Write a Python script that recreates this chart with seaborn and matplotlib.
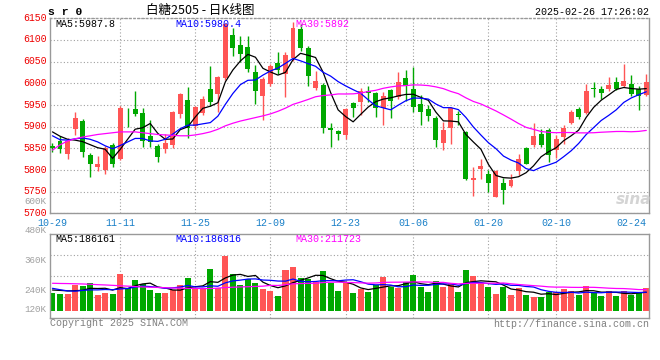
import numpy as np
import pandas as pd
import seaborn as sns
import matplotlib.pyplot as plt
from matplotlib.transforms import ScaledTranslation

# ===============================
# 1. DATA
# ===============================
opens = [5855, 5868, 5837, 5895, 5912, 5835, 5807, 5800, 5858, 5826,
         5935, 5941, 5932, 5879, 5856, 5848, 5858, 5929, 5962, 5902,
         5932, 5988, 5975, 6012, 6112, 6088, 6083, 6025, 5971, 5998,
         6046, 6021, 6058, 6125, 6082, 5990, 5996, 5896, 5891, 5881,
         5955, 5958, 5982, 5977, 5942, 5985, 5969, 6013, 5987, 5952,
         5940, 5919, 5862, 5896, 5929, 5887, 5778, 5802, 5791, 5738,
         5769, 5763, 5798, 5850, 5858, 5883, 5892, 5846, 5877, 5909,
         5940, 5931, 5990, 5986, 5987, 6004, 5995, 5998, 5988, 5973]
highs = [5862, 5878, 5875, 5934, 5918, 5839, 5833, 5856, 5862, 5948,
         5942, 5983, 5942, 5915, 5861, 5884, 5937, 5978, 5992, 5948,
         5970, 6040, 6018, 6140, 6128, 6110, 6109, 6042, 6015, 6044,
         6072, 6072, 6142, 6138, 6087, 6028, 6000, 5908, 5893, 5944,
         5956, 5990, 5995, 5981, 5979, 5988, 6027, 6031, 6038, 5973,
         5950, 5925, 5910, 5946, 5936, 5889, 5808, 5826, 5800, 5800,
         5781, 5792, 5838, 5854, 5909, 5894, 5896, 5881, 5904, 5938,
         5945, 5998, 6004, 5994, 6014, 6015, 6045, 6019, 5994, 6021]
lows = [5842, 5840, 5826, 5881, 5831, 5785, 5798, 5790, 5808, 5823,
        5900, 5924, 5854, 5853, 5818, 5840, 5851, 5920, 5875, 5895,
        5927, 5947, 5935, 6008, 6062, 6050, 6025, 5952, 5916, 5994,
        6021, 5969, 6052, 6075, 5995, 5985, 5885, 5854, 5869, 5872,
        5923, 5927, 5956, 5923, 5905, 5921, 5964, 5959, 5935, 5905,
        5913, 5852, 5846, 5859, 5905, 5777, 5741, 5779, 5749, 5737,
        5722, 5760, 5789, 5814, 5852, 5854, 5819, 5827, 5860, 5907,
        5917, 5929, 5969, 5965, 5983, 5985, 5992, 5970, 5938, 5970]
closes = [5850, 5848, 5868, 5920, 5842, 5815, 5813, 5850, 5815, 5944,
          5933, 5929, 5867, 5864, 5831, 5863, 5933, 5975, 5896, 5945,
          5963, 5957, 6015, 6137, 6082, 6067, 6033, 5982, 6009, 6040,
          6031, 6065, 6128, 6082, 6018, 6005, 5896, 5893, 5882, 5941,
          5944, 5982, 5977, 5944, 5971, 5959, 6004, 5994, 5946, 5935,
          5925, 5869, 5892, 5944, 5926, 5779, 5782, 5809, 5769, 5798,
          5754, 5777, 5825, 5815, 5878, 5858, 5835, 5871, 5896, 5935,
          5923, 5982, 5987, 5978, 5996, 5986, 6005, 5975, 5971, 6002]
# volume in thousands of lots
volumes = [182, 169, 169, 260, 249, 283, 159, 182, 169, 371,
           232, 310, 270, 209, 176, 182, 209, 260, 333, 226,
           226, 421, 226, 556, 371, 260, 317, 277, 216, 199,
           152, 411, 438, 333, 320, 287, 401, 277, 199, 277,
           182, 216, 192, 260, 343, 242, 226, 293, 361, 242,
           192, 303, 242, 270, 192, 411, 354, 283, 242, 169,
           242, 159, 232, 159, 141, 141, 186, 186, 219, 199,
           159, 249, 182, 148, 199, 148, 199, 159, 192, 232]

# first days of each average need history outside the window
ma5_head = [5888, 5878, 5871, 5869]
ma10_head = [5879, 5870, 5869, 5872, 5874, 5871, 5865, 5856, 5849]
ma30_head = [5846, 5858, 5867, 5872, 5876, 5879, 5882, 5884, 5886, 5888,
             5888, 5888, 5886, 5884, 5882, 5881, 5880, 5879, 5879, 5881,
             5884, 5888, 5894, 5902, 5908, 5913, 5917, 5921, 5925]
vol_ma5_head = [209, 205, 200, 202]
vol_ma10_head = [226, 212, 200, 197, 205, 210, 210, 214, 212]
vol_ma30_head = [277, 275, 274, 272, 270, 267, 263, 260, 256, 252,
                 248, 244, 240, 237, 235, 232, 230, 227, 226, 225,
                 223, 224, 228, 234, 237, 240, 242, 245, 248]

# legend values as printed on the chart
price_ma_labels = ["MA5:5987.8", "MA10:5980.4", "MA30:5892"]
vol_ma_labels = ["MA5:186161", "MA10:186816", "MA30:211723"]

tick_labels = ["10-29", "11-11", "11-25", "12-09", "12-23",
               "01-06", "01-20", "02-10", "02-24"]
vol_axis_labels = ["600K", "480K", "360K", "240K", "120K"]
holidays = ["2025-01-01", "2025-01-28", "2025-01-29", "2025-01-30",
            "2025-01-31", "2025-02-03", "2025-02-04"]

dates = pd.bdate_range("2024-10-29", "2025-02-26", freq="C", holidays=holidays)

df = pd.DataFrame({"date": dates.strftime("%m-%d"), "open": opens, "high": highs,
                   "low": lows, "close": closes, "vol": volumes})
df["idx"] = np.arange(len(df))
df["dir"] = np.where(df["close"] >= df["open"], "up", "down")


def moving_avg(s, n, head):
    ma = s.rolling(n).mean()
    ma.iloc[:n - 1] = head
    return ma


df["ma5"] = moving_avg(df["close"], 5, ma5_head)
df["ma10"] = moving_avg(df["close"], 10, ma10_head)
df["ma30"] = moving_avg(df["close"], 30, ma30_head)
df["vma5"] = moving_avg(df["vol"], 5, vol_ma5_head)
df["vma10"] = moving_avg(df["vol"], 10, vol_ma10_head)
df["vma30"] = moving_avg(df["vol"], 30, vol_ma30_head)

# ===============================
# 2. STYLE
# ===============================
sns.set_theme(style="white")
plt.rcParams["font.family"] = ["Liberation Mono", "Noto Sans CJK SC", "DejaVu Sans"]

RED = "#ff5555"
GREEN = "#00a800"
GRID = "#a0a0a0"
DOT = (0, (1, 2))
FS = 7.2
MA_COLORS = ["black", "#0000ff", "#ff00ff"]
palette = {"up": RED, "down": GREEN}
colors = df["dir"].map(palette)

W, H = 660, 360
fig = plt.figure(figsize=(W / 100, H / 100), dpi=100)
fig.patch.set_facecolor("white")


def box(x0, y0, x1, y1):
    return [x0 / W, 1 - y1 / H, (x1 - x0) / W, (y1 - y0) / H]


ax_p = fig.add_axes(box(50, 18.3, 649, 213.4))
ax_v = fig.add_axes(box(50, 234.3, 649, 317.7))

XLIM = (-0.33, 79.36)
tick_pos = [df.index[df["date"] == t][0] for t in tick_labels]

# ===============================
# 3. PRICE PANEL (candles + MA)
# ===============================
ax_p.vlines(df["idx"], df["low"], df["high"], colors=colors, lw=1, zorder=2)
body_lo = df[["open", "close"]].min(axis=1)
body_h = (df["close"] - df["open"]).abs().clip(lower=1.5)
ax_p.bar(df["idx"], body_h, bottom=body_lo, width=0.66, color=colors,
         linewidth=0, zorder=3)

for col, c in zip(["ma5", "ma10", "ma30"], MA_COLORS):
    sns.lineplot(x=df["idx"], y=df[col], color=c, lw=0.9, estimator=None,
                 ax=ax_p, zorder=4)

ax_p.set_xlim(XLIM)
ax_p.set_ylim(5700, 6150)
ax_p.set_yticks(range(5700, 6151, 50))
ax_p.set_xticks(tick_pos)
ax_p.set_xticklabels(tick_labels)
ax_p.tick_params(axis="y", length=0, pad=2.5, labelcolor="#ee0000", labelsize=7.1)
ax_p.tick_params(axis="x", length=0, pad=3.5, labelcolor="#1a80c8", labelsize=FS)
ax_p.yaxis.grid(True, color=GRID, ls=DOT, lw=0.8)
ax_p.set_xlabel("")
ax_p.set_ylabel("")
# the source draws its price labels a touch above the grid line
lift = ScaledTranslation(0, 1.5 / 100, fig.dpi_scale_trans)
for lbl in ax_p.get_yticklabels():
    lbl.set_transform(lbl.get_transform() + lift)

# ===============================
# 4. VOLUME PANEL (bars + MA)
# ===============================
sns.barplot(data=df, x="idx", y="vol", hue="dir", palette=palette,
            native_scale=True, dodge=False, width=0.8, saturation=1,
            errorbar=None, legend=False, linewidth=0, ax=ax_v, zorder=2)
for col, c in zip(["vma5", "vma10", "vma30"], MA_COLORS):
    sns.lineplot(x=df["idx"], y=df[col], color=c, lw=0.9, estimator=None,
                 ax=ax_v, zorder=4)

ax_v.set_xlim(XLIM)
v_lo, v_hi = -71, 772
ax_v.set_ylim(v_lo, v_hi)
ax_v.set_yticks(np.linspace(v_lo, v_hi, 5)[1:-1])
ax_v.set_yticklabels([])
ax_v.set_xticks([])
ax_v.tick_params(length=0)
ax_v.yaxis.grid(True, color=GRID, ls=DOT, lw=0.8)
ax_v.set_xlabel("")
ax_v.set_ylabel("")

# volume scale labels sit where the source puts them (axes fraction)
for lab, frac in zip(vol_axis_labels, [1.392, 1.04, 0.68, 0.33, 0.10]):
    ax_v.text(-0.006, frac, lab, transform=ax_v.transAxes, ha="right",
              va="center", color="#a0a0a0", fontsize=6.7)

for ax in (ax_p, ax_v):
    for p in tick_pos[1:-1]:
        ax.axvline(p, color=GRID, ls=DOT, lw=0.8, zorder=1)
    for s in ax.spines.values():
        s.set_color("#999999")
        s.set_linewidth(1)
ax_p.spines["top"].set_linestyle(DOT)

# ===============================
# 5. TEXT
# ===============================
def ftext(x, y, s, **kw):
    fig.text(x / W, 1 - y / H, s, va="center", **kw)


ftext(48, 12, "s r 0", fontsize=8.2, fontweight="bold", color="black")
ftext(200, 10, "白糖2505 - 日K线图", ha="center", fontsize=9, color="black",
      family=["Noto Sans CJK SC", "DejaVu Sans"])
ftext(649, 12, "2025-02-26 17:26:02", ha="right", fontsize=FS, color="black")

for x, lab, c in zip([55, 175, 295], price_ma_labels, MA_COLORS):
    ftext(x, 24, lab, fontsize=FS, color=c, zorder=6)
for x, lab, c in zip([55, 175, 295], vol_ma_labels, MA_COLORS):
    ftext(x, 238.5, lab, fontsize=FS, color=c, zorder=6)

ftext(50, 323.5, "Copyright 2025 SINA.COM", fontsize=FS, color="#808080")
ftext(649, 324, "http://finance.sina.com.cn", ha="right", fontsize=FS, color="#808080")

ftext(634, 199, "sina", ha="center", fontsize=11, fontweight="bold", style="italic",
      color="#d4d4d4", family="DejaVu Sans")

fig.savefig("out.png", dpi=100, facecolor="white")
